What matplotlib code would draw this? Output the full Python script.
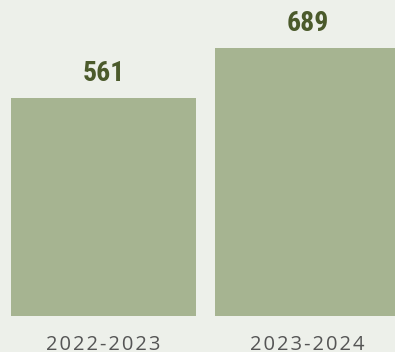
import matplotlib.pyplot as plt

# 数据
periods = ['2022-2023', '2023-2024']
counts = [561, 689]

bg = '#edf0ea'
bar_color = '#a6b491'
value_color = '#4b5a2b'
tick_color = '#555555'

fig = plt.figure(figsize=(3.95, 3.52), dpi=100)
fig.patch.set_facecolor(bg)
ax = fig.add_axes([0, 0, 1, 1])
ax.set_facecolor(bg)

x = range(len(periods))
ax.bar(x, counts, width=0.907, color=bar_color, edgecolor='none')

# 数值标签
for xi, v in zip(x, counts):
    ax.annotate(str(v), (xi, v), xytext=(0, 12), textcoords='offset points',
                ha='center', va='baseline', fontsize=20, fontweight='bold',
                color=value_color, family=['Roboto Condensed', 'DejaVu Sans'])

# 类别标签（字距加宽）
for xi, lab in zip(x, periods):
    spaced = '\u200a'.join(lab)
    ax.text(xi, 2 / 352, spaced, transform=ax.get_xaxis_transform(),
            ha='center', va='baseline', fontsize=14.5, color=tick_color,
            family=['Open Sans', 'DejaVu Sans'])

ax.set_xlim(-0.507, 1.429)
ax.set_ylim(-92.5, 812.3)
ax.axis('off')

fig.savefig('out.png', dpi=100, facecolor=bg)
